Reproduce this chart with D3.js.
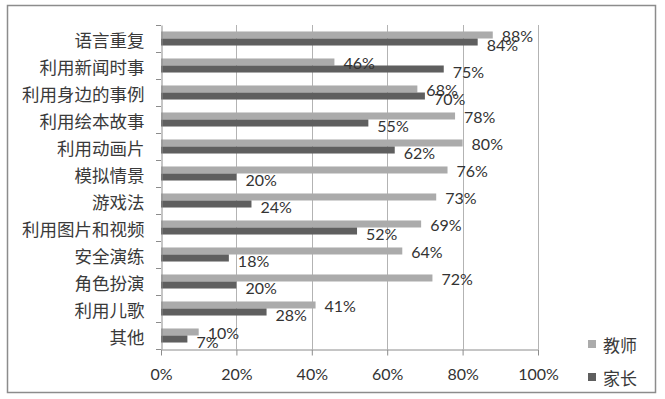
<!DOCTYPE html>
<html><head><meta charset="utf-8">
<script src="https://cdn.jsdelivr.net/npm/d3@7"></script>
<style>html,body{margin:0;padding:0;background:#fff;}</style>
</head><body>
<svg id="c" width="665" height="399"></svg>
<script>
const categories = ["语言重复","利用新闻时事","利用身边的事例","利用绘本故事","利用动画片","模拟情景","游戏法","利用图片和视频","安全演练","角色扮演","利用儿歌","其他"];
const teacherValues = [88,46,68,78,80,76,73,69,64,72,41,10];
const parentValues = [84,75,70,55,62,20,24,52,18,20,28,7];
const seriesNames = ["教师","家长"];
const seriesColors = ["#ababab","#5f5f5f"];
const xTicks = [0,20,40,60,80,100];

(function(){
const svg = d3.select("#c");
const pLeft = 161, pRight = 538, pTop = 25, pBottom = 349;
const numFont = "Lato, 'Liberation Sans', sans-serif";
const cjkFont = "'Noto Sans CJK SC', sans-serif";

svg.append("rect").attr("x",7.5).attr("y",5.5).attr("width",648).attr("height",387)
  .attr("fill","#fff").attr("stroke","#8c8c8c").attr("stroke-width",1.5);

const x = d3.scaleLinear().domain([0,100]).range([pLeft,pRight]);
const y = d3.scaleBand().domain(categories).range([pTop,pBottom]).paddingInner(0.48).paddingOuter(0.24);
const ySub = d3.scaleBand().domain(seriesNames).range([0,y.bandwidth()]);

svg.append("g").selectAll("line").data(xTicks.filter(d=>d>0)).join("line")
  .attr("x1",d=>Math.round(x(d))+0.5).attr("x2",d=>Math.round(x(d))+0.5)
  .attr("y1",pTop).attr("y2",pBottom).attr("stroke","#b3b3b3").attr("stroke-width",1);

const data = categories.map((c,i)=>({cat:c, vals:[teacherValues[i],parentValues[i]]}));

const g = svg.append("g");
data.forEach(d=>{
  seriesNames.forEach((s,j)=>{
    const v = d.vals[j];
    g.append("rect").attr("x",x(0)).attr("y",y(d.cat)+ySub(s))
      .attr("width",x(v)-x(0)).attr("height",ySub.bandwidth()).attr("fill",seriesColors[j]);
  });
});
data.forEach(d=>{
  seriesNames.forEach((s,j)=>{
    const v = d.vals[j];
    g.append("text").attr("x",x(v)+9).attr("y",y(d.cat)+ySub(s)+ySub.bandwidth()/2+(j===0?0.7:2))
      .attr("dominant-baseline","central").attr("font-family",numFont).attr("font-size",16)
      .attr("fill","#333").text(v+"%");
  });
});

const xAxis = d3.axisBottom(x).tickValues(xTicks).tickFormat(d=>d+"%").tickSize(6).tickSizeOuter(0);
const xa = svg.append("g").attr("transform",`translate(0,${pBottom+0.5})`).call(xAxis);
xa.select(".domain").attr("stroke","#8c8c8c");
xa.selectAll(".tick line").attr("stroke","#8c8c8c");
xa.selectAll("text").attr("font-family",numFont).attr("font-size",16).attr("fill","#333")
  .attr("dy",null).attr("y",23.5).attr("dominant-baseline","central");

const yAxis = d3.axisLeft(y).tickSize(0).tickPadding(17);
const ya = svg.append("g").attr("transform",`translate(${pLeft+0.5},0)`).call(yAxis);
ya.select(".domain").attr("stroke","#8c8c8c");
ya.selectAll("text").attr("font-family",cjkFont).attr("font-size",17.5).attr("fill","#3a3a3a")
  .attr("dy",null).attr("y",1).attr("dominant-baseline","central");
const bounds = d3.range(categories.length+1).map(i=>pTop + i*y.step());
svg.append("g").selectAll("line").data(bounds).join("line")
  .attr("x1",pLeft-5).attr("x2",pLeft).attr("y1",d=>Math.round(d)+0.5).attr("y2",d=>Math.round(d)+0.5)
  .attr("stroke","#8c8c8c");

const leg = svg.append("g");
seriesNames.forEach((s,j)=>{
  const cy = 344 + j*33;
  leg.append("rect").attr("x",588).attr("y",cy-4).attr("width",8).attr("height",8).attr("fill",seriesColors[j]);
  leg.append("text").attr("x",603).attr("y",cy).attr("dominant-baseline","central")
    .attr("font-family",cjkFont).attr("font-size",17).attr("fill","#3a3a3a").text(s);
});
})();
</script>
</body></html>
